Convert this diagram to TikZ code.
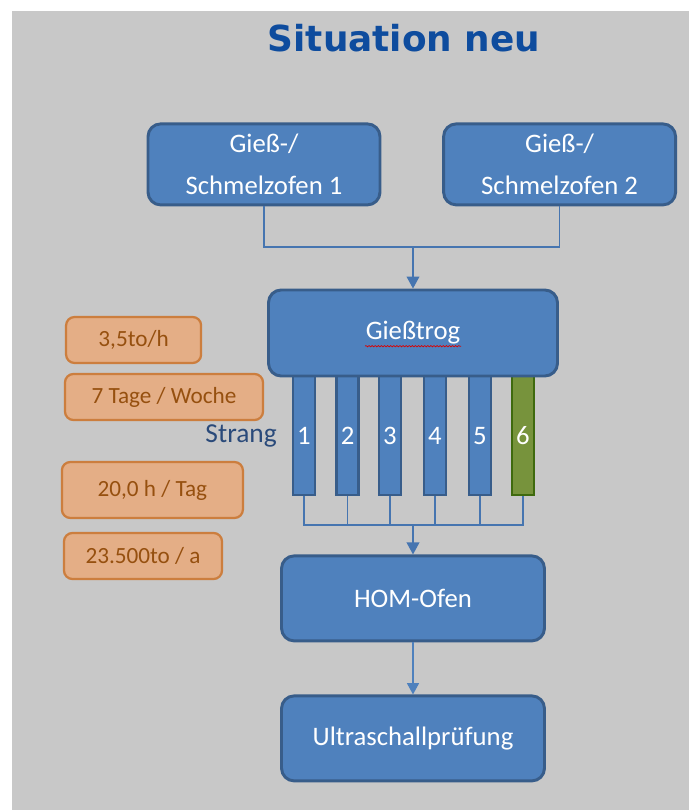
\documentclass[tikz,border=0pt]{standalone}
\usepackage{fontspec}
\setmainfont{Carlito}
\newfontfamily\titlefont{DejaVu Sans}
\usepackage{xcolor}
\usetikzlibrary{positioning,arrows.meta,calc,decorations.pathmorphing}
\definecolor{bgray}{HTML}{C8C8C8}
\definecolor{boxblue}{HTML}{4F81BD}
\definecolor{boxline}{HTML}{385D8A}
\definecolor{wire}{HTML}{4675B0}
\definecolor{titleblue}{HTML}{0E4C9E}
\definecolor{ofill}{HTML}{E4AE86}
\definecolor{oline}{HTML}{CC7E3E}
\definecolor{otext}{HTML}{96500F}
\definecolor{gfill}{HTML}{77933C}
\definecolor{gline}{HTML}{3F6A0E}
\definecolor{strangtxt}{HTML}{2A4A7A}

\begin{document}
\begin{tikzpicture}[>=Latex,
  proc/.style={draw=boxline, line width=2.1pt, fill=boxblue, rounded corners=9pt,
    text=white, align=center, inner sep=2pt, font=\fontsize{19}{30}\selectfont},
  fact/.style={draw=oline, line width=1.6pt, fill=ofill, rounded corners=6pt,
    text=otext, inner sep=2pt, minimum height=1.15cm, font=\fontsize{16.5}{20}\selectfont},
  strand/.style={draw=boxline, line width=1.9pt, fill=boxblue, minimum width=0.55cm,
    minimum height=2.975cm, inner sep=0pt, text=white, font=\fontsize{19}{22}\selectfont},
  wireline/.style={draw=wire, line width=0.9pt},
  arr/.style={wireline, -{Triangle[width=0.32cm,length=0.3cm]}}]
\useasboundingbox (0,0) rectangle (17.225,20.25);
% background
\fill[white] (0,0) rectangle (17.225,20.25);
\fill[bgray] (0.3,0) rectangle (17.225,19.975);
\node[font=\titlefont\bfseries\fontsize{25.5}{30}\selectfont, text=titleblue] (title) at (10.1,19.3) {Situation neu};
% ================= furnaces =================
\node[proc, minimum width=5.8cm, minimum height=2.025cm] (s1) at (6.6,16.14) {Gieß-/\\Schmelzofen 1};
\node[proc, minimum width=5.8cm, minimum height=2.025cm] (s2) at (13.99,16.14) {Gieß-/\\Schmelzofen 2};
\coordinate (join) at (10.325,14.075);
\draw[wireline] (s1.south) |- (join);
\draw[wireline] (s2.south) |- (join);
% ================= trough and strands =================
\foreach \i/\x in {1/7.6,2/8.69,3/9.75,4/10.875,5/12.0}{\node[strand] (b\i) at (\x,9.36) {\i};}
\node[strand, draw=gline, fill=gfill] (b6) at (13.075,9.36) {6};
\node[proc, minimum width=7.225cm, minimum height=2.15cm] (trog) at (10.325,11.925) {Gießtrog};
\draw[red!85!black, line width=0.5pt, decorate, decoration={snake, amplitude=0.45pt, segment length=2.2pt}]
  ([xshift=-1.2cm,yshift=-0.33cm]trog.center) -- ([xshift=1.2cm,yshift=-0.33cm]trog.center);
\draw[arr] (join) -- (trog.north);
\node[text=strangtxt, font=\fontsize{19.5}{22}\selectfont, left=0.25cm of b1] (strang) {Strang};
\coordinate (bus) at (10.325,7.125);
\foreach \i in {1,...,6}{\draw[wireline] (b\i.south) |- (bus);}
% ================= facts =================
\node[fact, minimum width=3.375cm] (f1) at (3.34,11.75) {3,5to/h};
\node[fact, minimum width=4.95cm] (f2) at (4.1,10.325) {7 Tage / Woche};
\node[fact, minimum width=4.525cm, minimum height=1.4cm] (f3) at (3.81,8.0) {20,0 h / Tag};
\node[fact, minimum width=3.95cm] (f4) at (3.575,6.35) {23.500to / a};
% ================= oven and testing =================
\node[proc, minimum width=6.575cm, minimum height=2.125cm] (hom) at (10.325,5.29) {HOM-Ofen};
\node[proc, minimum width=6.575cm, minimum height=2.125cm] (us) at (10.325,1.79) {Ultraschallprüfung};
\draw[arr] (bus) -- (hom.north);
\draw[draw=boxblue, line width=0.8pt, -{Triangle[width=0.3cm,length=0.28cm]}] (hom.south) -- (us.north);
\end{tikzpicture}
\end{document}
